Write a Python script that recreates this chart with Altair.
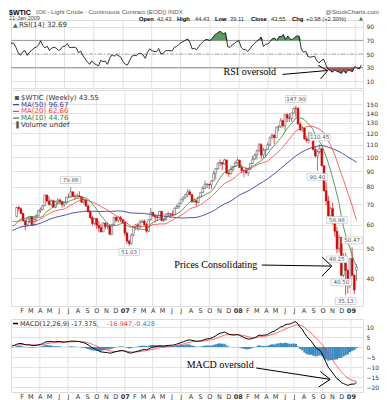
import altair as alt
import pandas as pd

# ---------------- data (weekly, Monday-dated weeks from 2005-01-03) ----------------
close_2005 = [45.43, 48.38, 48.53, 47.23, 46.48, 47.54, 48.35, 51.49, 53.78, 54.43, 56.72, 54.35,
              57.27, 53.32, 50.49, 55.39, 49.72, 50.93, 48.67, 46.80, 51.85, 55.03, 53.54, 58.47,
              59.84, 58.75, 59.63, 58.09, 58.65, 60.57, 62.31, 66.86, 65.36, 66.13, 67.57, 64.08,
              63.00, 64.19, 66.24, 61.84, 62.63, 60.63, 61.37, 60.58, 57.80, 56.14, 58.71, 59.32,
              59.39, 58.06, 58.43, 61.04]
close_2006 = [64.21, 63.92, 68.35, 67.76, 65.37, 61.84, 59.88, 62.91, 63.67, 60.02, 62.68, 64.26,
              66.63, 67.39, 69.32, 75.17, 71.88, 69.94, 72.04, 68.53, 71.37, 72.33, 71.63, 69.88,
              70.87, 73.93, 74.09, 77.03, 74.43, 74.38, 74.76, 74.35, 71.14, 72.51, 69.20, 66.25,
              63.33, 60.55, 62.91, 59.76, 58.57, 56.82, 60.75, 59.14, 59.58, 55.81, 60.14, 63.43,
              62.03, 63.43, 62.41, 61.05]
close_2007 = [56.31, 52.99, 51.99, 55.42, 59.02, 59.89, 59.39, 61.14, 61.64, 60.05, 57.11, 62.28,
              65.87, 64.28, 63.63, 63.38, 66.46, 61.93, 62.37, 64.94, 65.20, 65.08, 64.76, 68.00,
              68.90, 70.68, 72.81, 73.93, 75.57, 77.02, 75.48, 71.47, 71.98, 71.09, 74.04, 76.70,
              79.10, 81.62, 81.66, 81.22, 83.69, 88.60, 91.86, 95.93, 96.32, 95.10, 98.18, 88.71,
              88.28, 91.27, 93.31, 96.00]
close_2008 = [97.91, 92.69, 90.57, 90.71, 88.96, 91.77, 95.50, 98.81, 101.84, 105.15, 110.21, 101.84,
              105.62, 106.23, 110.14, 116.69, 118.52, 116.32, 125.96, 126.29, 132.19, 127.35, 138.54, 134.86,
              134.62, 140.21, 145.29, 145.08, 128.88, 123.26, 125.10, 115.20, 113.77, 114.59, 115.46, 106.23,
              101.18, 104.55, 106.89, 93.88, 77.70, 71.85, 64.15, 67.81, 61.04, 57.04, 49.93, 54.43,
              40.81, 46.28, 42.36, 37.71]
close_2009 = [46.34, 40.83, 36.51, 43.55]

open_2006 = [61.04, 64.21, 63.92, 68.35, 67.76, 65.37, 61.84, 59.88, 62.91, 63.67, 60.02, 62.68,
             64.26, 66.63, 67.39, 69.32, 75.17, 71.88, 69.94, 72.04, 68.53, 71.37, 72.33, 71.63,
             69.88, 70.87, 73.93, 74.09, 77.03, 74.43, 74.38, 74.76, 74.35, 71.14, 72.51, 69.20,
             66.25, 63.33, 60.55, 62.91, 59.76, 58.57, 56.82, 60.75, 59.14, 59.58, 55.81, 60.14,
             63.43, 62.03, 63.43, 62.41]
open_2007 = [61.05, 56.31, 52.99, 51.99, 55.42, 59.02, 59.89, 59.39, 61.14, 61.64, 60.05, 57.11,
             62.28, 65.87, 64.28, 63.63, 63.38, 66.46, 61.93, 62.37, 64.94, 65.20, 65.08, 64.76,
             68.00, 68.90, 70.68, 72.81, 73.93, 75.57, 77.02, 75.48, 71.47, 71.98, 71.09, 74.04,
             76.70, 79.10, 81.62, 81.66, 81.22, 83.69, 88.60, 91.86, 95.93, 96.32, 95.10, 98.18,
             88.71, 88.28, 91.27, 93.31]
open_2008 = [96.00, 97.91, 92.69, 90.57, 90.71, 88.96, 91.77, 95.50, 98.81, 101.84, 105.15, 110.21,
             101.84, 105.62, 106.23, 110.14, 116.69, 118.52, 116.32, 125.96, 126.29, 132.19, 127.35, 138.54,
             134.86, 134.62, 140.21, 145.29, 145.08, 128.88, 123.26, 125.10, 115.20, 113.77, 114.59, 115.46,
             106.23, 101.18, 104.55, 106.89, 93.88, 77.70, 71.85, 64.15, 67.81, 61.04, 57.04, 49.93,
             54.43, 40.81, 46.28, 42.36]
open_2009 = [37.71, 46.34, 40.83, 42.43]

high_2006 = [64.74, 64.90, 68.75, 69.20, 68.40, 65.70, 62.40, 63.50, 64.20, 64.00, 63.80, 64.80,
             67.20, 68.40, 69.50, 75.35, 75.20, 74.40, 72.80, 72.10, 72.00, 73.30, 73.00, 71.90,
             71.20, 74.10, 75.90, 79.86, 77.00, 75.50, 76.10, 77.30, 74.30, 73.50, 72.60, 69.80,
             66.80, 64.00, 63.10, 62.80, 61.60, 60.20, 61.10, 61.20, 61.00, 60.10, 60.40, 63.70,
             64.00, 63.80, 64.00, 62.60]
high_2007 = [61.50, 56.80, 53.50, 56.20, 59.20, 60.40, 60.70, 62.30, 62.30, 62.40, 60.80, 62.50,
             68.10, 66.00, 64.50, 64.20, 66.60, 66.50, 62.90, 65.40, 66.30, 65.40, 66.70, 68.30,
             69.90, 70.90, 72.90, 74.30, 75.90, 78.77, 78.40, 75.50, 73.40, 72.20, 74.30, 77.00,
             80.36, 83.90, 82.00, 81.70, 84.10, 90.07, 92.22, 96.24, 98.62, 96.70, 99.29, 98.20,
             90.50, 94.20, 93.90, 97.00]
high_2008 = [100.09, 98.50, 94.70, 91.40, 92.90, 92.30, 95.80, 101.30, 103.05, 105.97, 111.80, 111.50,
             107.90, 106.80, 112.21, 117.00, 119.93, 119.30, 126.20, 127.80, 135.09, 133.50, 139.12, 139.89,
             139.89, 140.39, 145.85, 147.90, 146.70, 131.30, 127.40, 125.10, 117.40, 122.00, 121.20, 116.10,
             108.30, 106.00, 110.45, 107.80, 94.40, 83.00, 74.80, 68.80, 71.00, 63.80, 58.98, 55.50,
             54.80, 48.30, 48.50, 42.80]
high_2009 = [46.40, 50.47, 41.20, 44.43]

low_2006 = [61.00, 62.40, 63.50, 66.50, 64.80, 61.50, 57.55, 59.40, 60.80, 59.50, 59.60, 61.40,
            63.80, 65.60, 66.90, 69.00, 71.20, 69.50, 69.00, 68.20, 68.00, 70.00, 70.30, 68.40,
            68.70, 70.50, 73.50, 73.50, 73.90, 72.60, 73.50, 73.90, 70.90, 70.00, 68.70, 65.80,
            62.60, 59.50, 59.90, 58.10, 56.60, 56.60, 57.00, 57.80, 58.00, 55.40, 55.30, 59.50,
            61.20, 60.80, 61.30, 60.60]
low_2007 = [55.10, 51.90, 51.03, 51.50, 54.90, 57.50, 57.30, 58.20, 60.80, 59.40, 56.40, 56.70,
            61.90, 63.70, 61.00, 61.70, 63.00, 61.60, 61.20, 61.90, 63.90, 63.10, 64.10, 64.50,
            67.60, 67.70, 70.50, 71.60, 73.20, 74.00, 74.80, 70.90, 70.80, 69.00, 70.50, 73.90,
            76.30, 78.80, 79.20, 78.60, 78.60, 83.60, 84.70, 91.00, 93.60, 90.80, 94.50, 88.20,
            86.20, 88.00, 89.80, 93.00]
low_2008 = [95.00, 92.50, 88.80, 86.11, 88.10, 86.90, 91.00, 95.20, 97.90, 98.50, 104.80, 98.65,
            99.60, 99.90, 106.00, 109.00, 114.90, 110.70, 115.80, 122.00, 125.10, 125.50, 122.40, 130.80,
            131.00, 131.40, 139.50, 135.90, 128.20, 122.50, 121.30, 114.60, 111.90, 111.30, 113.60, 105.50,
            99.90, 90.40, 102.80, 93.60, 77.10, 69.60, 63.70, 61.30, 60.00, 54.70, 48.25, 48.50,
            40.50, 40.30, 35.13, 35.60]
low_2009 = [37.00, 40.50, 35.40, 39.11]

# labelled highs / lows on the price panel
lab_dates = ["2006-07-10", "2008-07-07", "2008-09-22", "2008-11-17", "2009-01-05"]
lab_vals = [79.86, 147.90, 110.45, 58.98, 50.47]
lab_text = ["79.86", "147.90", "110.45", "58.98", "50.47"]
low_dates = ["2007-01-15", "2008-09-15", "2008-11-17", "2008-12-01", "2008-12-15"]
low_vals = [51.03, 90.40, 48.25, 40.50, 35.13]
low_text = ["51.03", "90.40", "48.25", "40.50", "35.13"]

quarter_lines = ["2006-04-01", "2006-07-01", "2006-10-01", "2007-01-01", "2007-04-01", "2007-07-01",
                 "2007-10-01", "2008-01-01", "2008-04-01", "2008-07-01", "2008-10-01", "2009-01-01"]

# ---------------- derived indicator series ----------------
closes = close_2005 + close_2006 + close_2007 + close_2008 + close_2009
weeks = pd.date_range("2005-01-03", periods=len(closes), freq="7D")
df = pd.DataFrame({"date": weeks, "close": closes})
df["ma50"] = df.close.rolling(50).mean()
df["ma20"] = df.close.rolling(20).mean()
df["ma10"] = df.close.rolling(10).mean()
delta = df.close.diff()
gain = delta.clip(lower=0)
loss = (-delta).clip(lower=0)
ag = gain.ewm(alpha=1 / 14, adjust=False).mean()
al = loss.ewm(alpha=1 / 14, adjust=False).mean()
df["rsi"] = 100 - 100 / (1 + ag / al)
df["rsi_hi"] = df.rsi.clip(lower=70)
df["rsi_lo"] = df.rsi.clip(upper=30)
ema12 = df.close.ewm(span=12, adjust=False).mean()
ema26 = df.close.ewm(span=26, adjust=False).mean()
df["macd"] = ema12 - ema26
df["signal"] = df.macd.ewm(span=9, adjust=False).mean()
df["hist"] = df.macd - df.signal

vis = df[df.date >= "2006-01-02"].copy()
vis["open"] = open_2006 + open_2007 + open_2008 + open_2009
vis["high"] = high_2006 + high_2007 + high_2008 + high_2009
vis["low"] = low_2006 + low_2007 + low_2008 + low_2009
vis["date"] = vis.date.dt.strftime("%Y-%m-%d")
candles = vis[vis.date >= "2006-01-12"]

qdf = pd.DataFrame({"date": quarter_lines})
one = pd.DataFrame({"a": [0]})

W = 352
H_RSI, H_MAIN, H_MACD = 68, 216, 73
FONT = "DejaVu Sans"
HF = "Liberation Sans"

xscale = alt.Scale(type="utc", nice=False,
                   domain=[alt.DateTime(year=2006, month=1, date=14, utc=True),
                           alt.DateTime(year=2009, month=1, date=24, utc=True)])
month_vals = []
for y in (2006, 2007, 2008, 2009):
    for m in range(1, 13):
        if (y == 2006 and m == 1) or (y == 2009 and m > 1):
            continue
        month_vals.append(alt.DateTime(year=y, month=m, date=1, utc=True))

ax_none = alt.Axis(labels=False, ticks=False, domain=False, grid=False, title=None)
ax_month = alt.Axis(values=month_vals, ticks=False, domain=False, grid=False, title=None,
                    labelExpr="utcmonth(datum.value)==0 ? utcFormat(datum.value, '%y') : "
                              "substring('JFMAMJJASOND', utcmonth(datum.value), utcmonth(datum.value)+1)",
                    labelFontWeight={"condition": {"test": "utcmonth(datum.value)==0", "value": "bold"},
                                     "value": "normal"},
                    labelOverlap=False, labelFlush=False, labelAngle=0, labelPadding=1,
                    labelFontSize=6.5, labelColor="#333", labelFont=FONT)


def X(field, axis):
    return alt.X(field + ":T", scale=xscale, axis=axis)


def txt(text, x, y, size=7, color="#000", weight="normal", font=FONT, align="left", baseline="middle"):
    return alt.Chart(one).mark_text(text=text, align=align, baseline=baseline, fontSize=size,
                                    font=font, color=color, fontWeight=weight).encode(
        x=alt.value(x), y=alt.value(y))


def swatch(x1, x2, y, color, width=1.2):
    return alt.Chart(one).mark_rule(color=color, strokeWidth=width).encode(
        x=alt.value(x1), x2=alt.value(x2), y=alt.value(y))


def spacer(x1, y1, x2, y2):
    # invisible mark that only reserves layout room
    return alt.Chart(one).mark_rule(strokeOpacity=0, opacity=0).encode(
        x=alt.value(x1), x2=alt.value(x2), y=alt.value(y1), y2=alt.value(y2))


# ---------------- RSI panel ----------------
rsi_y = alt.Scale(domain=[0, 100], nice=False)
rsi_ax = alt.Axis(orient="right", values=[10, 30, 50, 70, 90], ticks=False, domain=False, grid=True,
                  gridColor="#e2e2e2", labelFontSize=6, labelColor="#333", labelFont=FONT,
                  labelPadding=3, title=None)
rsi_lines = pd.DataFrame({"v": [70, 30]})
rsi_mid = pd.DataFrame({"v": [50]})
arrow_rsi = pd.DataFrame({"x": ["2008-05-16", "2008-09-05", "2008-09-13"],
                          "x2": ["2008-10-05"] * 3,
                          "y": [19.9, 33.3, 13.4], "y2": [25.8, 25.8, 25.8]})
note_rsi = pd.DataFrame({"x": ["2007-11-13"], "y": [23.4], "t": ["RSI oversold"]})

rsi = alt.layer(
    alt.Chart(qdf).mark_rule(color="#e2e2e2").encode(x=X("date", ax_none)),
    alt.Chart(rsi_lines).mark_rule(color="#999", strokeWidth=1).encode(y=alt.Y("v:Q", scale=rsi_y, axis=rsi_ax)),
    alt.Chart(rsi_mid).mark_rule(color="#aaa", strokeWidth=1, strokeDash=[4, 2, 1, 2]).encode(
        y=alt.Y("v:Q", scale=rsi_y, axis=rsi_ax)),
    alt.Chart(vis).mark_area(color="#5e9a5e", clip=True).encode(
        x=X("date", ax_none), y=alt.Y("rsi_hi:Q", scale=rsi_y, axis=rsi_ax), y2=alt.datum(70)),
    alt.Chart(vis).mark_area(color="#a05858", clip=True).encode(
        x=X("date", ax_none), y=alt.Y("rsi_lo:Q", scale=rsi_y, axis=rsi_ax), y2=alt.datum(30)),
    alt.Chart(vis).mark_line(color="#000", strokeWidth=0.8, clip=True).encode(
        x=X("date", ax_none), y=alt.Y("rsi:Q", scale=rsi_y, axis=rsi_ax)),
    alt.Chart(arrow_rsi).mark_rule(color="#000", strokeWidth=1).encode(
        x=X("x", ax_none), x2="x2:T", y=alt.Y("y:Q", scale=rsi_y, axis=rsi_ax), y2="y2:Q"),
    alt.Chart(note_rsi).mark_text(align="left", baseline="middle", font="Liberation Serif",
                                  fontSize=10, color="#000").encode(
        x=X("x", ax_none), y=alt.Y("y:Q", scale=rsi_y, axis=rsi_ax), text="t:N"),
    txt("\u25b2", 2, 5, size=6, color="#3d7d3d"),
    txt("RSI(14) 32.69", 8, 5, size=7, color="#333"),
    # header
    txt("$WTIC", -2, -11.5, size=7, weight="bold", baseline="top", font=HF),
    txt("(Oil - Light Crude - Continuous Contract (EOD)) INDX", 25, -11, size=6.2, color="#555",
        baseline="top", font=HF),
    txt("@StockCharts.com", 368, -11, size=6.2, color="#555", baseline="top", align="right", font=HF),
    txt("21-Jan-2009", -2, -4.4, size=5.5, color="#444", baseline="top", font=HF),
    txt("Open", 128, -4.4, size=5.8, weight="bold", baseline="top", font=HF),
    txt("42.43", 146, -4.4, size=5.8, color="#333", baseline="top", font=HF),
    txt("High", 166, -4.4, size=5.8, weight="bold", baseline="top", font=HF),
    txt("44.43", 184, -4.4, size=5.8, color="#333", baseline="top", font=HF),
    txt("Low", 204, -4.4, size=5.8, weight="bold", baseline="top", font=HF),
    txt("39.11", 219, -4.4, size=5.8, color="#333", baseline="top", font=HF),
    txt("Close", 240, -4.4, size=5.8, weight="bold", baseline="top", font=HF),
    txt("43.55", 260, -4.4, size=5.8, color="#333", baseline="top", font=HF),
    txt("Chg", 281, -4.4, size=5.8, weight="bold", baseline="top", font=HF),
    txt("+0.98 (+2.30%)", 295, -4.4, size=5.8, color="#333", baseline="top", font=HF),
    txt("\u25b2", 348, -4.4, size=5, color="#2a8a2a", baseline="top"),
).properties(width=W, height=H_RSI)

# ---------------- price panel ----------------
py = alt.Scale(type="log", domain=[32.34, 167], nice=False)
p_ax = alt.Axis(orient="right", values=[40, 50, 60, 70, 80, 90, 100, 110, 120, 130, 140, 150],
                ticks=False, domain=False, grid=True, gridColor="#e2e2e2", labelFontSize=6,
                labelColor="#333", labelFont=FONT, labelPadding=3, title=None)
down = "datum.close < datum.open"
hi_df = pd.DataFrame({"date": lab_dates, "v": lab_vals, "t": lab_text})
lo_df = pd.DataFrame({"date": low_dates, "v": low_vals, "t": low_text})
box = "M-1,-0.33L1,-0.33L1,0.33L-1,0.33Z"
arrow_p = pd.DataFrame({"x": ["2008-03-19", "2008-09-30", "2008-09-30"],
                        "x2": ["2008-10-31"] * 3,
                        "y": [44.15, 46.9, 40.6], "y2": [43.8, 43.8, 43.8]})
note_p = pd.DataFrame({"x": ["2007-06-10"], "y": [44.3], "t": ["Prices Consolidating"]})


def price_labels(d, off):
    return [
        alt.Chart(d).mark_point(shape=box, size=420, filled=True, fill="#fff", stroke="#bbb",
                                strokeWidth=0.6, opacity=1).encode(
            x=X("date", ax_month), y=alt.Y("v:Q", scale=py, axis=p_ax), yOffset=alt.value(off)),
        alt.Chart(d).mark_text(fontSize=5.5, font=FONT, color="#555", baseline="middle").encode(
            x=X("date", ax_month), y=alt.Y("v:Q", scale=py, axis=p_ax), text="t:N",
            yOffset=alt.value(off)),
    ]


main = alt.layer(
    alt.Chart(qdf).mark_rule(color="#e2e2e2").encode(x=X("date", ax_month)),
    alt.Chart(candles).mark_rule(strokeWidth=0.7).encode(
        x=X("date", ax_month), y=alt.Y("low:Q", scale=py, axis=p_ax), y2="high:Q",
        color=alt.condition(down, alt.value("#dd0000"), alt.value("#555"))),
    alt.Chart(candles).mark_bar(size=1.8, strokeWidth=0.5).encode(
        x=X("date", ax_month), y=alt.Y("open:Q", scale=py, axis=p_ax), y2="close:Q",
        fill=alt.condition(down, alt.value("#dd0000"), alt.value("#ffffff")),
        stroke=alt.condition(down, alt.value("#dd0000"), alt.value("#444"))),
    alt.Chart(vis).mark_line(color="#3c3c9c", strokeWidth=0.9, clip=True).encode(
        x=X("date", ax_month), y=alt.Y("ma50:Q", scale=py, axis=p_ax)),
    alt.Chart(vis).mark_line(color="#ff3a3a", strokeWidth=0.8, clip=True).encode(
        x=X("date", ax_month), y=alt.Y("ma20:Q", scale=py, axis=p_ax)),
    alt.Chart(vis).mark_line(color="#2d862d", strokeWidth=0.8, clip=True).encode(
        x=X("date", ax_month), y=alt.Y("ma10:Q", scale=py, axis=p_ax)),
    *price_labels(hi_df, -7),
    *price_labels(lo_df, 6),
    alt.Chart(arrow_p).mark_rule(color="#000", strokeWidth=1).encode(
        x=X("x", ax_month), x2="x2:T", y=alt.Y("y:Q", scale=py, axis=p_ax), y2="y2:Q"),
    alt.Chart(note_p).mark_text(align="left", baseline="middle", font="Liberation Serif",
                                fontSize=10, color="#000").encode(
        x=X("x", ax_month), y=alt.Y("y:Q", scale=py, axis=p_ax), text="t:N"),
    txt("\u25aa", 3, 8, size=8, color="#555"),
    txt("$WTIC (Weekly) 43.55", 10, 8, size=7, color="#333"),
    swatch(2, 8, 14.7, "#3c3c9c"),
    txt("MA(50) 96.67", 10, 14.7, size=7, color="#3c3c9c"),
    swatch(2, 8, 21.4, "#ff3a3a"),
    txt("MA(20) 62.66", 10, 21.4, size=7, color="#ff3a3a"),
    swatch(2, 8, 28.1, "#2d862d"),
    txt("MA(10) 44.76", 10, 28.1, size=7, color="#2d862d"),
    txt("\u2590", 3, 34.8, size=6, color="#555"),
    txt("Volume undef", 10, 34.8, size=7, color="#333"),
    spacer(-2, H_MAIN, -1, H_MAIN + 11),
).properties(width=W, height=H_MAIN)

# ---------------- MACD panel ----------------
my = alt.Scale(domain=[-22.5, 14.0], nice=False)
m_ax = alt.Axis(orient="right", values=[10, 5, 0, -5, -10, -15, -20], ticks=False, domain=False,
                grid=True, gridColor="#e2e2e2", labelFontSize=6, labelColor="#333", labelFont=FONT,
                labelPadding=3, title=None)
arrow_m = pd.DataFrame({"x": ["2008-03-01", "2008-09-24", "2008-09-19"],
                        "x2": ["2008-10-26"] * 3,
                        "y": [-10.5, -12.2, -20.0], "y2": [-16.2, -16.2, -16.2]})
note_m = pd.DataFrame({"x": ["2007-07-20"], "y": [-9.2], "t": ["MACD oversold"]})

macd = alt.layer(
    alt.Chart(qdf).mark_rule(color="#e2e2e2").encode(x=X("date", ax_month)),
    alt.Chart(vis).mark_bar(size=2.3, color="#3a8ac4", clip=True).encode(
        x=X("date", ax_month), y=alt.Y("hist:Q", scale=my, axis=m_ax)),
    alt.Chart(vis).mark_line(color="#ff4040", strokeWidth=0.8, clip=True).encode(
        x=X("date", ax_month), y=alt.Y("signal:Q", scale=my, axis=m_ax)),
    alt.Chart(vis).mark_line(color="#000", strokeWidth=1, clip=True).encode(
        x=X("date", ax_month), y=alt.Y("macd:Q", scale=my, axis=m_ax)),
    alt.Chart(arrow_m).mark_rule(color="#000", strokeWidth=1).encode(
        x=X("x", ax_month), x2="x2:T", y=alt.Y("y:Q", scale=my, axis=m_ax), y2="y2:Q"),
    alt.Chart(note_m).mark_text(align="left", baseline="middle", font="Liberation Serif",
                                fontSize=10, color="#000").encode(
        x=X("x", ax_month), y=alt.Y("y:Q", scale=my, axis=m_ax), text="t:N"),
    swatch(2, 7, 4.5, "#000", 1.5),
    txt("MACD(12,26,9) -17.375,", 9, 4.5, size=6.5, color="#333"),
    txt("-16.947,", 96, 4.5, size=6.5, color="#ff4040"),
    txt("-0.428", 123, 4.5, size=6.5, color="#3a8ac4"),
    spacer(-2, 0, -1, 1),
).properties(width=W, height=H_MACD)

chart = alt.vconcat(rsi, main, macd, spacing=0).properties(
    padding={"left": 0, "top": 0, "right": 0, "bottom": 0}).configure_view(
    stroke="#999", strokeWidth=1).configure(background="#ffffff")

chart.save("out.html", embed_options={"renderer": "svg", "actions": False})
